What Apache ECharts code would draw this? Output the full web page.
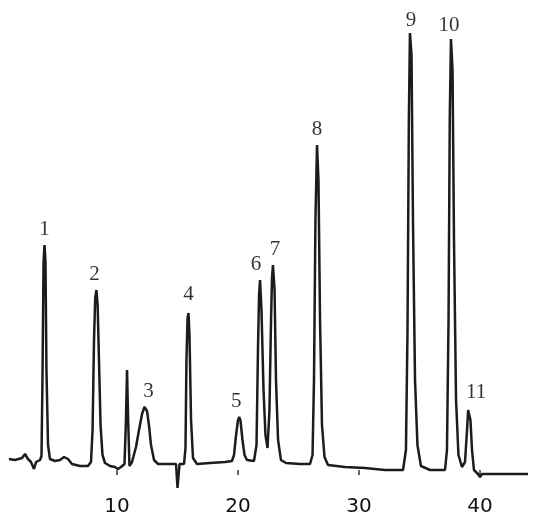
<!DOCTYPE html>
<html>
<head>
<meta charset="utf-8">
<script src="https://cdn.jsdelivr.net/npm/echarts@6/dist/echarts.min.js"></script>
<style>
html,body{margin:0;padding:0;background:#fff;}
#chart{width:550px;height:531px;}
</style>
</head>
<body>
<div id="chart"></div>
<script>
// Retention time (min) of trace points
var times = [1.07,1.57,2.15,2.40,2.64,2.89,3.14,3.31,3.64,
  3.76,3.84,3.93,4.01,4.09,4.17,4.30,4.46,4.88,5.29,5.62,5.95,6.28,6.94,7.60,
  7.85,7.98,8.10,8.20,8.30,8.40,8.51,8.64,8.80,9.01,9.42,9.83,10.08,10.33,10.62,
  10.74,10.83,10.91,11.03,
  11.24,11.57,11.82,12.07,12.27,12.48,12.64,12.81,13.06,13.39,14.05,14.88,
  15.00,15.08,15.17,
  15.54,15.66,15.74,15.83,15.91,15.99,16.12,16.28,16.61,17.69,18.93,
  19.50,19.67,19.83,20.00,20.10,20.21,20.37,20.54,20.74,21.32,
  21.53,21.65,21.74,21.82,21.94,22.11,22.27,22.44,
  22.60,22.73,22.81,22.89,23.02,23.14,23.31,23.55,23.97,25.12,25.95,
  26.16,26.28,26.40,26.53,26.65,26.78,26.94,27.15,27.44,28.84,30.50,32.15,33.64,
  33.88,34.01,34.12,34.21,34.34,34.46,34.63,34.83,35.12,35.87,37.11,
  37.27,37.40,37.50,37.60,37.73,37.85,38.02,38.22,38.51,
  38.76,38.93,39.02,39.11,39.21,39.34,39.50,39.83,40.00,40.17,41.65,43.97];
// Detector signal (arbitrary units) at those times
var signal = [11,10,12,16,11,8,1,8,10,
  14,90,208,225,208,100,25,11,9,10,13,11,6,4,4,
  8,40,130,172,180,165,110,45,15,7,4,3,1,3,6,
  50,100,55,4,
  8,23,40,56,63,59,45,25,10,6,6,6,
  -18,-18,6,
  6,22,110,152,157,135,50,12,6,7,8,
  9,15,34,50,53,49,30,15,10,9,
  25,120,175,190,160,80,35,22,
  60,150,192,205,180,90,30,10,7,6,6,
  15,90,250,325,290,150,45,13,5,3,2,0,0,
  20,140,350,437,415,250,90,25,4,0,0,
  20,150,350,431,400,230,70,15,3,
  8,40,60,62,50,20,0,-4,-7,-4,-4,-4];
// Peak labels and apex positions
var peakNames = ['1','2','3','4','5','6','7','8','9','10','11'];
var peakTimes = [4.01,8.30,12.27,15.91,20.10,21.82,22.89,26.53,34.21,37.60,39.11];
var peakHeights = [225,180,63,157,53,190,205,325,437,431,62];
var tickValues = [10,20,30,40];

// label nudges (px) – style only
var labelDx = [0,-2,4,0,-3,-4,2,0,1,-2,7];
var labelDy = [0,0,0,-3,0,0,0,0,3,2,0];

var trace = times.map(function(t,i){return [t, signal[i]];});
var peaks = peakTimes.map(function(t,i){
  return {value:[t, peakHeights[i]], name: peakNames[i],
    label:{offset:[labelDx[i], labelDy[i]]}};
});

var chart = echarts.init(document.getElementById('chart'), null, {renderer:'canvas'});
chart.setOption({
  animation:false,
  backgroundColor:'#ffffff',
  grid:{left:8.1, right:9.5, top:0, bottom:61, containLabel:false},
  xAxis:{
    type:'value', min:1, max:45,
    axisLine:{show:false},
    splitLine:{show:false},
    axisTick:{show:true, customValues:tickValues, length:5, lineStyle:{color:'#666', width:2}},
    axisLabel:{show:true, customValues:tickValues, margin:27, fontSize:20,
      fontFamily:'DejaVu Sans', color:'#111'}
  },
  yAxis:{type:'value', min:0, max:470, show:false, splitLine:{show:false}},
  series:[
    {type:'line', data:trace, showSymbol:false, symbol:'none', clip:false,
     lineStyle:{color:'#1c1c1c', width:2.5}, smooth:false},
    {type:'scatter', data:peaks, symbolSize:0, clip:false,
     label:{show:true, position:'top', distance:5, formatter:'{b}',
       fontSize:21, fontFamily:'Liberation Serif', color:'#000'}}
  ]
});
</script>
</body>
</html>
